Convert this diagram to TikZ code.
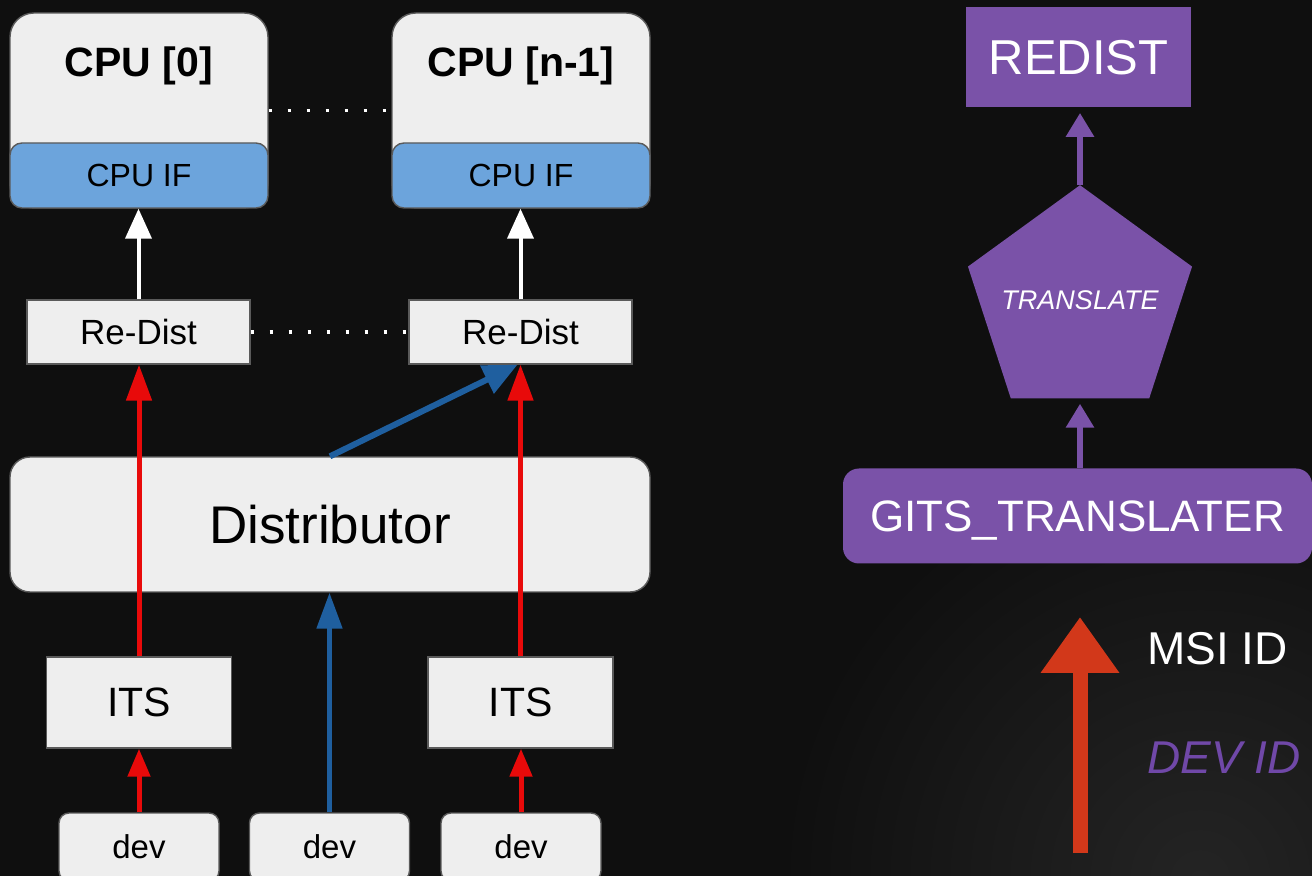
\documentclass[tikz,border=0pt]{standalone}
\usepackage{fontspec}
\setmainfont{Liberation Sans}
\usetikzlibrary{arrows.meta,shapes.geometric}
\definecolor{bg}{HTML}{0F0F0F}
\definecolor{bglight}{HTML}{242424}
\definecolor{boxfill}{HTML}{EEEEEE}
\definecolor{boxedge}{HTML}{5A5A5A}
\definecolor{ifblue}{HTML}{6CA4DC}
\definecolor{arred}{HTML}{E80A0A}
\definecolor{arblue}{HTML}{1F5F9F}
\definecolor{purp}{HTML}{7A52A8}
\definecolor{devpurp}{HTML}{7048A8}
\definecolor{handred}{HTML}{D2381A}
\begin{document}
\begin{tikzpicture}[x=0.5pt,y=-0.5pt,
  lightbox/.style={draw=boxedge, line width=0.7pt, fill=boxfill, inner sep=0pt, text=black},
  cpubox/.style={lightbox, rounded corners=12pt, minimum width=129pt, minimum height=97.5pt},
  ifbox/.style={lightbox, fill=ifblue, rounded corners=6pt, minimum width=129pt, minimum height=32.5pt, font=\fontsize{16}{16}\selectfont},
  rdbox/.style={lightbox, minimum width=111.5pt, minimum height=32pt, font=\fontsize{17.5}{17.5}\selectfont},
  itsbox/.style={lightbox, minimum width=92.5pt, minimum height=45.5pt, font=\fontsize{20.5}{20.5}\selectfont},
  devbox/.style={lightbox, rounded corners=5pt, minimum width=80pt, minimum height=34pt, font=\fontsize{16.5}{16.5}\selectfont},
  cputitle/.style={font=\bfseries\fontsize{20.5}{20.5}\selectfont, inner sep=0pt, text depth=0pt, text=black},
  dotline/.style={draw=white, line width=1.7pt, dash pattern=on 1.7pt off 7.8pt},
  whitearrow/.style={draw=white, line width=2pt, -{Triangle[width=13pt,length=15pt]}},
  redarrow/.style={draw=arred, line width=2.5pt, -{Triangle[width=12.5pt,length=18pt]}},
  smallred/.style={draw=arred, line width=2.5pt, -{Triangle[width=11pt,length=14pt]}},
  bluearrow/.style={draw=arblue, line width=3pt, -{Triangle[width=15pt,length=17pt]}},
  bluevert/.style={draw=arblue, line width=2.5pt, -{Triangle[width=12.5pt,length=18pt]}},
  purparrow/.style={draw=purp, line width=3pt, -{Triangle[width=13.5pt,length=12pt]}},
  handarrow/.style={draw=handred, line width=7.5pt, -{Triangle[width=37.5pt,length=28pt]}},
  purpbox/.style={fill=purp, inner sep=0pt, text=white}
]
\useasboundingbox (0,0) rectangle (1312,876);
\clip (0,0) rectangle (1312,876);
\fill[bg] (0,0) rectangle (1312,876);
\shade[inner color=bglight, outer color=bg] (1200,880) circle (420);

% CPUs
\node[cpubox] (cpu0) at (139,110.5) {};
\node[ifbox] (cpuif0) at (139,175.5) {CPU IF};
\node[cputitle] (cpu0t) at (139,62) {CPU [0]};
\node[cpubox] (cpu1) at (521,110.5) {};
\node[ifbox] (cpuif1) at (521,175.5) {CPU IF};
\node[cputitle] (cpu1t) at (521,62) {CPU [n-1]};
\draw[dotline] (cpu0) -- (cpu1);

% Re-Dist
\node[rdbox] (rd0) at (138.5,332) {Re-Dist};
\node[rdbox] (rd1) at (520.5,332) {Re-Dist};
\draw[dotline] (rd0) -- (rd1);

% Distributor
\node[lightbox, rounded corners=10pt, minimum width=320pt, minimum height=67.5pt,
      font=\fontsize{26.5}{26.5}\selectfont] (dist) at (330,524.5) {Distributor};

% ITS
\node[itsbox] (its0) at (139,702.5) {ITS};
\node[itsbox] (its1) at (520.5,702.5) {ITS};

% devs
\node[devbox] (dev0) at (139,847) {dev};
\node[devbox] (dev1) at (329.5,847) {dev};
\node[devbox] (dev2) at (521,847) {dev};

% arrows left
\draw[whitearrow] (rd0.north) -- (rd0.north |- cpuif0.south);
\draw[whitearrow] (rd1.north) -- (rd1.north |- cpuif1.south);
\draw[redarrow] (its0.north) -- (its0.north |- rd0.south);
\draw[redarrow] (its1.north) -- (its1.north |- rd1.south);
\draw[bluearrow] (dist.north) -- ([xshift=-1.5pt]rd1.south);
\draw[bluevert] (dev1.north) -- (dev1.north |- dist.south);
\draw[smallred] (dev0.north) -- (dev0.north |- its0.south);
\draw[smallred] (dev2.north) -- (dev2.north |- its1.south);

% right side
\node[purpbox, minimum width=112.5pt, minimum height=50pt,
      font=\fontsize{24.5}{24.5}\selectfont] (redist) at (1078.5,57.5) {REDIST};
\node[purpbox, regular polygon, regular polygon sides=5, minimum size=117.8pt,
      font=\itshape\fontsize{13.5}{13.5}\selectfont] (trans) at (1080,303) {\makebox[0pt]{\raisebox{3pt}{TRANSLATE}}};
\node[purpbox, rounded corners=8pt, minimum width=234.5pt, minimum height=47.5pt, text depth=0pt,
      font=\fontsize{22}{22}\selectfont] (gits) at (1077.5,516) {GITS\_TRANSLATER};
\draw[purparrow] (trans.corner 1) -- ([yshift=-2.5pt]trans.corner 1 |- redist.south);
\draw[purparrow] (trans.south |- gits.north) -- ([yshift=-2.5pt]trans.south);

\coordinate (msitail) at (1080,853);
\coordinate (msitip) at (1080,617);
\draw[handarrow] (msitail) -- (msitip);
\node[anchor=west, inner sep=0pt, text=white, font=\fontsize{23}{23}\selectfont] (msi) at (1147,649) {MSI ID};
\node[anchor=west, inner sep=0pt, text=devpurp, font=\itshape\fontsize{23}{23}\selectfont] (devid) at (1147,758) {DEV ID};
\end{tikzpicture}
\end{document}
